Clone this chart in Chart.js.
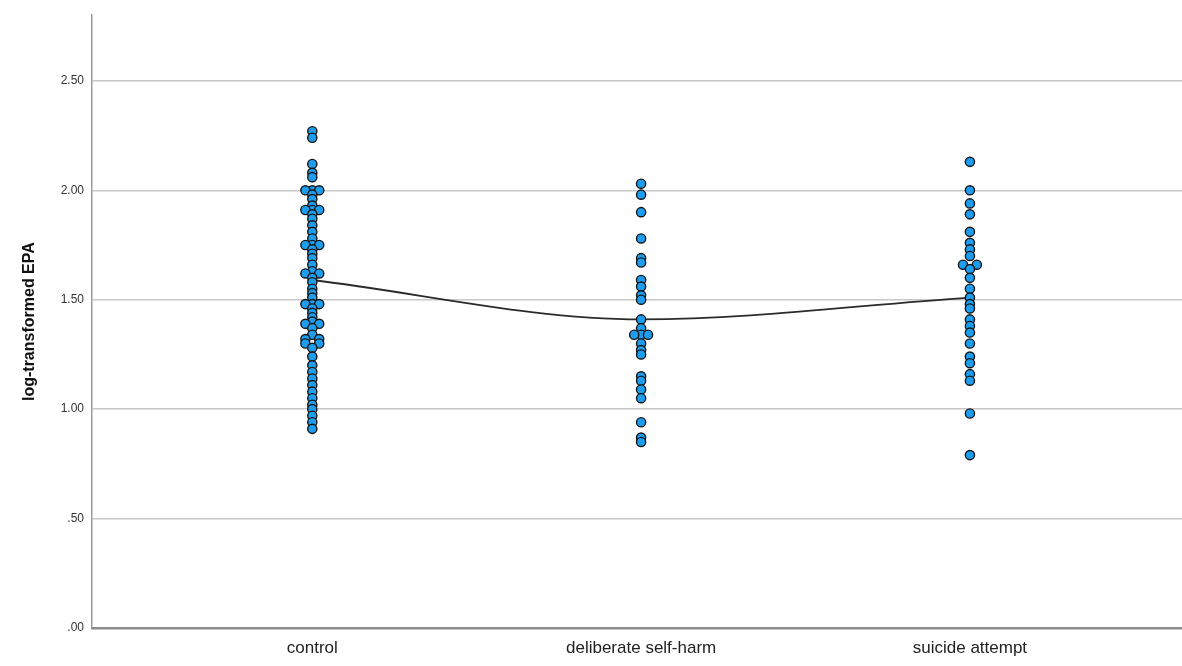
<!DOCTYPE html>
<html lang="en">
<head>
  <meta charset="UTF-8" />
  <title>log-transformed EPA by group</title>
  <script src="https://cdn.jsdelivr.net/npm/chart.js"></script>
  <style>
    html, body {
      margin: 0;
      padding: 0;
      background: #fff;
    }
    .wrap {
      width: 1182px;
      height: 666px;
    }
  </style>
</head>
<body>
<div class="wrap">
  <canvas id="chart" width="1182" height="666"></canvas>
</div>

<script>
const groups = ['control', 'deliberate self-harm', 'suicide attempt'];
const yTicks = [0, 0.5, 1, 1.5, 2, 2.5];

// values; offset = small sideways shift of overlapping dots
const controlValues = [2.27, 2.24, 2.12, 2.08, 2.06, 2.00, 2.00, 2.00, 1.98, 1.96, 1.93, 1.91, 1.91, 1.91,
  1.89, 1.87, 1.84, 1.81, 1.78, 1.75, 1.75, 1.75, 1.73, 1.71, 1.69, 1.66, 1.63, 1.62, 1.62,
  1.60, 1.58, 1.55, 1.53, 1.51, 1.48, 1.48, 1.48, 1.46, 1.44, 1.42, 1.40, 1.39, 1.39, 1.37,
  1.34, 1.32, 1.32, 1.30, 1.30, 1.28, 1.24, 1.20, 1.17, 1.14, 1.11, 1.08, 1.05, 1.02, 1.00,
  0.97, 0.94, 0.91];
const controlOffset = [0, 0, 0, 0, 0, 0, -1, 1, 0, 0, 0, 0, -1, 1,
  0, 0, 0, 0, 0, 0, -1, 1, 0, 0, 0, 0, 0, -1, 1,
  0, 0, 0, 0, 0, 0, -1, 1, 0, 0, 0, 0, -1, 1, 0,
  0, -1, 1, -1, 1, 0, 0, 0, 0, 0, 0, 0, 0, 0, 0,
  0, 0, 0];

const dshValues = [2.03, 1.98, 1.90, 1.78, 1.69, 1.67, 1.59, 1.56, 1.52, 1.50,
  1.41, 1.37, 1.34, 1.34, 1.34, 1.30, 1.27, 1.25, 1.15, 1.13, 1.09, 1.05, 0.94, 0.87, 0.85];
const dshOffset = [0, 0, 0, 0, 0, 0, 0, 0, 0, 0,
  0, 0, 0, -1, 1, 0, 0, 0, 0, 0, 0, 0, 0, 0, 0];

const saValues = [2.13, 2.00, 1.94, 1.89, 1.81, 1.76, 1.73, 1.70, 1.66, 1.66, 1.64, 1.60, 1.55,
  1.51, 1.48, 1.46, 1.41, 1.38, 1.35, 1.30, 1.24, 1.21, 1.16, 1.13, 0.98, 0.79];
const saOffset = [0, 0, 0, 0, 0, 0, 0, 0, -1, 1, 0, 0, 0,
  0, 0, 0, 0, 0, 0, 0, 0, 0, 0, 0, 0, 0];

// fitted curve through the groups
const fitValues = [1.59, 1.41, 1.51];

const jitter = 0.021;

function toPoints(groupIndex, values, offsets) {
  return values.map((v, i) => ({ x: groupIndex + 1 + offsets[i] * jitter, y: v }));
}

const dotStyle = {
  type: 'scatter',
  backgroundColor: '#1e9dee',
  borderColor: '#151515',
  borderWidth: 1.4,
  pointRadius: 4.6,
  pointHoverRadius: 4.6
};

new Chart(document.getElementById('chart'), {
  data: {
    datasets: [
      Object.assign({ label: groups[0], data: toPoints(0, controlValues, controlOffset) }, dotStyle),
      Object.assign({ label: groups[1], data: toPoints(1, dshValues, dshOffset) }, dotStyle),
      Object.assign({ label: groups[2], data: toPoints(2, saValues, saOffset) }, dotStyle),
      {
        type: 'line',
        label: 'fit',
        data: fitValues.map((v, i) => ({ x: i + 1, y: v })),
        borderColor: '#2b2b2b',
        borderWidth: 1.8,
        pointRadius: 0,
        cubicInterpolationMode: 'monotone',
        fill: false,
        order: 10
      }
    ]
  },
  options: {
    responsive: false,
    animation: false,
    layout: { autoPadding: false, padding: { top: 12, right: 0, left: 0, bottom: 0 } },
    plugins: {
      legend: { display: false },
      tooltip: { enabled: false }
    },
    scales: {
      x: {
        type: 'linear',
        min: 0.33,
        max: 3.645,
        afterBuildTicks: s => { s.ticks = groups.map((g, i) => ({ value: i + 1 })); },
        afterFit: s => { s.height = 38; },
        ticks: {
          callback: v => groups[v - 1] || '',
          color: '#222',
          padding: 10,
          font: { family: 'Liberation Sans, Arial, sans-serif', size: 17 }
        },
        grid: { display: false, drawTicks: false },
        border: { color: '#8c8c8c', width: 2.5 }
      },
      y: {
        min: 0,
        max: 2.8,
        afterBuildTicks: s => { s.ticks = yTicks.map(v => ({ value: v })); },
        afterFit: s => { s.width = 92; },
        title: {
          display: true,
          text: 'log-transformed EPA',
          color: '#111',
          padding: { top: 20, bottom: 0 },
          font: { family: 'Liberation Sans, Arial, sans-serif', size: 16, weight: 'bold' }
        },
        ticks: {
          callback: v => v.toFixed(2).replace(/^0/, ''),
          color: '#333',
          padding: 8,
          font: { family: 'Liberation Sans, Arial, sans-serif', size: 12 }
        },
        grid: { color: '#c8c8c8', lineWidth: 1.5, drawTicks: false },
        border: { color: '#9a9a9a', width: 1.5 }
      }
    }
  }
});
</script>
</body>
</html>
